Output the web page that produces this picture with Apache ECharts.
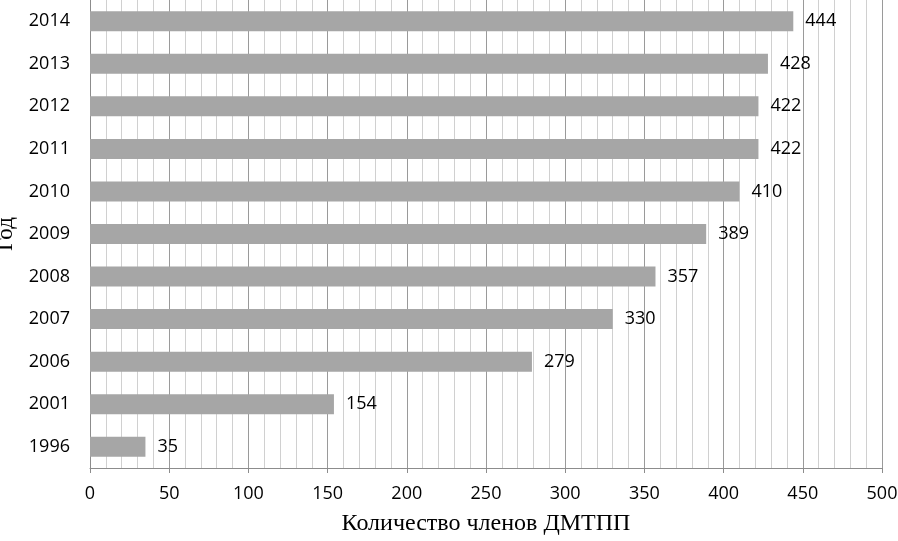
<!DOCTYPE html>
<html>
<head>
<meta charset="utf-8">
<script src="https://cdn.jsdelivr.net/npm/echarts@6/dist/echarts.min.js"></script>
<style>
html, body { margin: 0; padding: 0; background: #fff; }
#chart { width: 898px; height: 541px; }
</style>
</head>
<body>
<div id="chart"></div>
<script>
const years = ['1996', '2001', '2006', '2007', '2008', '2009', '2010', '2011', '2012', '2013', '2014'];
const members = [35, 154, 279, 330, 357, 389, 410, 422, 422, 428, 444];

let myChart = echarts.init(document.getElementById('chart'));
const labelFont = 'Open Sans';
const option = {
    animation: false,
    grid: { left: 90, right: 16, top: 0, bottom: 73, containLabel: false, outerBoundsMode: 'none' },
    xAxis: {
        type: 'value',
        min: 0,
        max: 500,
        interval: 50,
        minorTick: { show: false, splitNumber: 5 },
        minorSplitLine: { show: true, lineStyle: { color: '#d0d0d0', width: 1 } },
        splitLine: { show: true, lineStyle: { color: '#9a9a9a', width: 1 } },
        axisLine: { show: true, lineStyle: { color: '#8c8c8c' } },
        axisTick: { show: true, length: 5, lineStyle: { color: '#8c8c8c' } },
        axisLabel: { color: '#000', fontFamily: labelFont, fontSize: 18, margin: 17 },
        name: 'Количество членов ДМТПП',
        nameLocation: 'middle',
        nameGap: 44,
        nameTextStyle: { fontFamily: 'Liberation Serif', fontSize: 24, color: '#000' }
    },
    yAxis: {
        type: 'category',
        data: years,
        axisLine: { show: true, lineStyle: { color: '#8c8c8c' } },
        axisTick: { show: false },
        axisLabel: { color: '#000', fontFamily: labelFont, fontSize: 18, margin: 20 },
        name: 'Год',
        nameLocation: 'middle',
        nameGap: 71,
        nameRotate: 90,
        nameTextStyle: { fontFamily: 'Liberation Serif', fontSize: 23, color: '#000' }
    },
    series: [{
        type: 'bar',
        data: members,
        barWidth: 20,
        itemStyle: { color: '#a6a6a6' },
        label: {
            show: true,
            position: 'right',
            distance: 12,
            color: '#000',
            fontFamily: labelFont,
            fontSize: 18
        }
    }]
};
myChart.setOption(option);
</script>
</body>
</html>
